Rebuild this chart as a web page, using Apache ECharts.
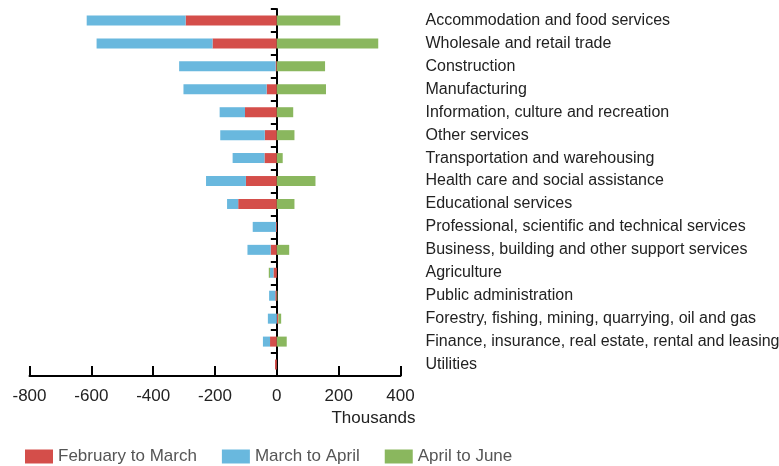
<!DOCTYPE html>
<html>
<head>
<meta charset="utf-8">
<script src="https://cdn.jsdelivr.net/npm/echarts@6/dist/echarts.min.js"></script>
<style>
  html, body { margin: 0; padding: 0; background: #fff; }
  #chart { width: 779px; height: 466px; }
</style>
</head>
<body>
<div id="chart"></div>
<script>
const categories = [
  "Accommodation and food services",
  "Wholesale and retail trade",
  "Construction",
  "Manufacturing",
  "Information, culture and recreation",
  "Other services",
  "Transportation and warehousing",
  "Health care and social assistance",
  "Educational services",
  "Professional, scientific and technical services",
  "Business, building and other support services",
  "Agriculture",
  "Public administration",
  "Forestry, fishing, mining, quarrying, oil and gas",
  "Finance, insurance, real estate, rental and leasing",
  "Utilities"
];
const febToMar = [-295, -208, -4, -33, -103, -39, -40, -100, -125, -3, -20, -11, -5, 5, -22, -6];
const marToApr = [-320, -375, -312, -269, -82, -144, -103, -129, -36, -75, -75, -11, -20, -29, -23, 0];
const aprToJun = [205, 328, 156, 159, 53, 57, 19, 125, 57, 0, 40, -4, 2, 9, 32, 0];
const xTicks = { min: -800, max: 400, step: 200 };

const chart = echarts.init(document.getElementById("chart"));
const font = "'Liberation Sans', Arial, Helvetica, sans-serif";

function barSeries(name, data, color) {
  return {
    name: name,
    type: "bar",
    stack: "total",
    barWidth: 10,
    yAxisIndex: 0,
    itemStyle: { color: color },
    data: data,
  };
}

const option = {
  animation: false,
  textStyle: { fontFamily: font },
  grid: {
    left: 29.5,
    right: 378.5,
    top: 9,
    bottom: 90,
    containLabel: false,
    outerBoundsMode: "none",
  },
  legend: {
    left: 25,
    top: 448,
    padding: 0,
    itemWidth: 28,
    itemHeight: 14,
    itemGap: 25,
    icon: "rect",
    textStyle: { color: "#555", fontSize: 17, fontFamily: font },
    data: ["February to March", "March to April", "April to June"],
  },
  xAxis: {
    type: "value",
    min: xTicks.min,
    max: xTicks.max,
    interval: xTicks.step,
    name: "Thousands",
    nameLocation: "end",
    nameGap: 15,
    nameTextStyle: {
      color: "#222",
      fontSize: 17,
      align: "right",
      verticalAlign: "top",
      padding: [34, 0, 0, 0],
    },
    axisLine: { show: true, onZero: false, lineStyle: { color: "#000", width: 2 } },
    axisTick: { show: true, inside: true, length: 10, lineStyle: { color: "#000", width: 2 } },
    axisLabel: { color: "#222", fontSize: 17, margin: 12 },
    splitLine: { show: false },
  },
  yAxis: [
    {
      type: "category",
      inverse: true,
      data: categories,
      axisLine: { show: true, onZero: true, lineStyle: { color: "#000", width: 2 } },
      axisTick: { show: true, length: 6, lineStyle: { color: "#000", width: 2 } },
      axisLabel: { show: false },
    },
    {
      type: "category",
      inverse: true,
      position: "right",
      data: categories,
      axisLine: { show: false },
      axisTick: { show: false },
      axisLabel: { color: "#222", fontSize: 16, margin: 25, align: "left" },
    },
  ],
  series: [
    barSeries("February to March", febToMar, "#d44e4a"),
    barSeries("March to April", marToApr, "#69b8de"),
    barSeries("April to June", aprToJun, "#8ab75e"),
  ],
};
chart.setOption(option);
</script>
</body>
</html>
